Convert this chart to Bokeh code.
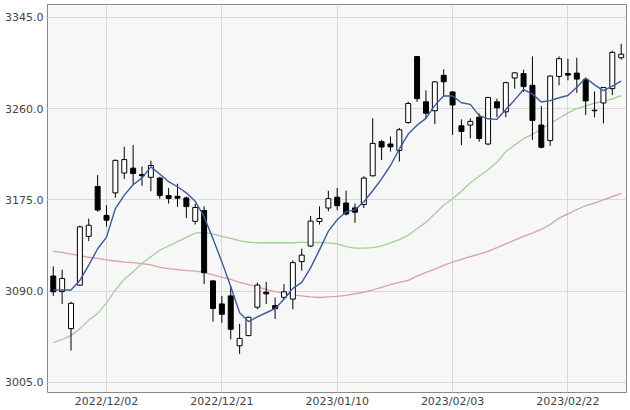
from bokeh.plotting import figure
from bokeh.models import ColumnDataSource, FixedTicker, NumeralTickFormatter, Range1d
from bokeh.embed import file_html
from bokeh.resources import INLINE

dates = ["2022/11/24","2022/11/25","2022/11/28","2022/11/29","2022/11/30","2022/12/01","2022/12/02",
         "2022/12/05","2022/12/06","2022/12/07","2022/12/08","2022/12/09","2022/12/12","2022/12/13",
         "2022/12/14","2022/12/15","2022/12/16","2022/12/19","2022/12/20","2022/12/21","2022/12/22",
         "2022/12/23","2022/12/26","2022/12/27","2022/12/28","2022/12/29","2022/12/30","2023/01/03",
         "2023/01/04","2023/01/05","2023/01/06","2023/01/09","2023/01/10","2023/01/11","2023/01/12",
         "2023/01/13","2023/01/16","2023/01/17","2023/01/18","2023/01/19","2023/01/20","2023/01/30",
         "2023/01/31","2023/02/01","2023/02/02","2023/02/03","2023/02/06","2023/02/07","2023/02/08",
         "2023/02/09","2023/02/10","2023/02/13","2023/02/14","2023/02/15","2023/02/16","2023/02/17",
         "2023/02/20","2023/02/21","2023/02/22","2023/02/23","2023/02/24","2023/02/27","2023/02/28",
         "2023/03/01","2023/03/02"]

opens = [3104.0,3089.5,3055.0,3095.5,3141.0,3187.5,3160.5,3181.5,3200.0,3204.5,3198.5,3196.0,3195.3,
         3179.0,3178.3,3176.8,3155.0,3165.0,3099.5,3078.0,3085.5,3039.0,3048.5,3075.0,3089.0,3076.5,
         3084.2,3082.5,3117.5,3132.0,3154.8,3167.4,3177.5,3172.0,3167.5,3170.6,3197.4,3229.2,3227.0,
         3221.0,3247.0,3308.5,3266.3,3258.0,3291.0,3275.5,3244.0,3244.7,3252.0,3227.0,3266.3,3257.0,
         3288.5,3292.6,3281.7,3244.7,3230.2,3290.0,3292.6,3293.1,3287.0,3258.5,3265.3,3278.6,3307.4]
highs = [3113.0,3110.0,3080.0,3151.0,3157.5,3198.0,3170.0,3212.5,3224.5,3226.0,3206.0,3211.5,3196.5,
         3186.0,3190.0,3178.0,3171.5,3169.0,3100.0,3085.5,3094.5,3059.5,3066.0,3098.0,3098.5,3084.0,
         3096.5,3118.5,3129.5,3160.0,3169.0,3183.5,3186.0,3183.5,3171.5,3197.0,3251.0,3231.0,3234.0,
         3242.0,3266.5,3309.0,3277.0,3285.5,3296.5,3276.0,3250.0,3251.0,3255.6,3270.5,3269.3,3285.0,
         3294.0,3296.3,3308.6,3262.3,3291.0,3308.6,3306.4,3307.4,3288.0,3276.0,3279.0,3314.0,3320.4]
lows = [3085.5,3078.0,3034.5,3095.0,3136.5,3164.0,3150.0,3177.0,3194.5,3189.0,3188.0,3183.0,3176.0,
        3171.5,3168.5,3158.0,3152.0,3096.5,3061.5,3060.5,3045.0,3031.5,3048.0,3073.0,3078.0,3064.0,
        3082.5,3073.0,3109.0,3131.0,3152.0,3164.3,3165.3,3160.4,3153.6,3167.5,3196.8,3212.0,3220.0,
        3210.7,3246.0,3266.3,3251.0,3245.5,3271.5,3235.5,3226.0,3232.3,3229.2,3226.0,3252.2,3252.0,
        3278.6,3275.5,3230.8,3223.0,3225.2,3281.7,3286.4,3274.6,3254.0,3251.8,3246.2,3272.5,3305.5]
closes = [3089.3,3101.7,3078.6,3149.8,3151.3,3165.5,3156.1,3211.8,3212.5,3199.6,3197.4,3207.0,3179.0,
          3176.3,3176.5,3168.7,3167.9,3107.1,3073.8,3068.4,3054.4,3045.9,3065.6,3095.6,3087.4,3073.7,
          3089.3,3116.5,3123.5,3155.2,3157.6,3176.1,3169.5,3161.8,3163.5,3195.3,3227.6,3224.2,3224.4,
          3240.3,3264.8,3269.3,3255.7,3284.9,3285.0,3263.4,3238.7,3248.1,3232.1,3270.4,3260.7,3284.2,
          3293.3,3280.5,3249.0,3224.0,3290.3,3306.5,3291.2,3287.5,3267.2,3258.0,3279.6,3312.4,3310.7]

ma_short = [3091.1,3091.0,3091.0,3100.0,3114.1,3129.4,3140.3,3166.9,3179.4,3189.1,3195.5,3205.7,3199.1,
            3191.9,3187.2,3181.5,3173.7,3159.3,3138.8,3117.2,3094.3,3069.9,3061.6,3066.0,3069.8,3073.6,
            3082.3,3092.5,3098.1,3111.6,3128.4,3145.8,3156.4,3164.0,3165.7,3173.2,3183.5,3194.5,3207.0,
            3222.4,3236.3,3244.6,3250.9,3263.0,3271.9,3271.7,3265.5,3264.0,3253.5,3250.5,3250.0,3259.1,
            3268.1,3277.8,3273.5,3266.2,3267.4,3270.1,3272.2,3279.9,3288.5,3282.1,3276.7,3280.9,3285.6]
ma_mid = [3042.0,3045.0,3048.5,3055.0,3063.0,3069.0,3079.0,3091.0,3101.0,3108.0,3116.0,3122.0,3128.0,
          3132.0,3136.0,3140.0,3144.0,3145.0,3143.0,3141.0,3139.0,3137.0,3135.5,3135.0,3135.0,3135.0,
          3135.0,3135.0,3135.6,3135.0,3135.5,3135.0,3134.0,3131.5,3130.0,3130.0,3130.5,3132.0,3135.0,
          3138.0,3142.0,3148.0,3154.0,3162.0,3170.0,3176.0,3183.0,3191.0,3197.0,3203.0,3210.0,3220.0,
          3226.0,3232.0,3236.0,3241.0,3246.0,3251.0,3256.0,3260.0,3262.5,3265.0,3267.0,3269.0,3272.0]
ma_long = [3127.0,3126.0,3124.5,3123.0,3121.5,3120.5,3119.0,3118.0,3117.0,3116.5,3115.5,3114.5,3112.0,
           3111.0,3110.0,3109.0,3108.5,3107.5,3105.0,3103.0,3101.0,3098.0,3096.0,3094.0,3091.5,3089.5,
           3088.0,3086.5,3085.5,3084.5,3084.0,3084.5,3085.0,3086.0,3087.5,3089.0,3091.0,3093.5,3096.0,
           3098.0,3100.0,3104.0,3107.5,3110.5,3114.0,3117.0,3119.5,3122.0,3124.5,3127.0,3130.5,3134.0,
           3137.5,3141.0,3144.0,3147.5,3152.0,3158.0,3162.0,3166.0,3169.5,3172.0,3175.0,3178.0,3181.0]

y_ticks = [3005, 3090, 3175, 3260, 3345]
x_tick_labels = ["2022/12/02", "2022/12/21", "2023/01/10", "2023/02/03", "2023/02/22"]

idx = list(range(len(dates)))
x_ticks = [dates.index(d) for d in x_tick_labels]

up = [c >= o for o, c in zip(opens, closes)]
src = ColumnDataSource(dict(
    x=idx, o=opens, h=highs, l=lows, c=closes,
    top=[max(o, c) for o, c in zip(opens, closes)],
    bot=[min(o, c) for o, c in zip(opens, closes)],
    fill=["#ffffff" if u else "#000000" for u in up],
))

p = figure(width=630, height=410, output_backend="svg", toolbar_location=None,
           x_range=Range1d(-0.65, 64.6), y_range=Range1d(2995.5, 3357.0),
           min_border_left=47, min_border_right=4, min_border_top=4, min_border_bottom=0)
p.background_fill_color = "#f7f7f7"
p.border_fill_color = "#ffffff"
p.outline_line_color = "#8a8a8a"
p.outline_line_width = 1

p.xgrid.ticker = FixedTicker(ticks=x_ticks)
p.ygrid.ticker = FixedTicker(ticks=y_ticks)
p.xgrid.grid_line_color = "#d8d8d8"
p.ygrid.grid_line_color = "#d8d8d8"

p.xaxis.ticker = FixedTicker(ticks=x_ticks)
p.xaxis.major_label_overrides = {t: lab for t, lab in zip(x_ticks, x_tick_labels)}
p.yaxis.ticker = FixedTicker(ticks=y_ticks)
p.yaxis.formatter = NumeralTickFormatter(format="0.0")
for ax in (p.xaxis[0], p.yaxis[0]):
    ax.axis_line_color = None
    ax.major_tick_line_color = None
    ax.minor_tick_line_color = None
    ax.major_tick_out = 0
    ax.major_tick_in = 0
    ax.minor_tick_out = 0
    ax.minor_tick_in = 0
    ax.major_label_text_font = "DejaVu Sans"
    ax.major_label_text_font_size = "11px"
    ax.major_label_text_color = "#444444"
p.xaxis.major_label_standoff = 2
p.yaxis.major_label_standoff = 4

p.line(idx, ma_long, line_color="#d4a4a4", line_width=1.3)
p.line(idx, ma_mid, line_color="#a3cf98", line_width=1.3)

p.segment(x0="x", y0="h", x1="x", y1="l", source=src, line_color="#000000", line_width=1)
p.vbar(x="x", top="top", bottom="bot", width=0.56, source=src,
       fill_color="fill", line_color="#000000", line_width=1)

p.line(idx, ma_short, line_color="#3b5b98", line_width=1.4)

open("out.html", "w").write(file_html(p, INLINE))
